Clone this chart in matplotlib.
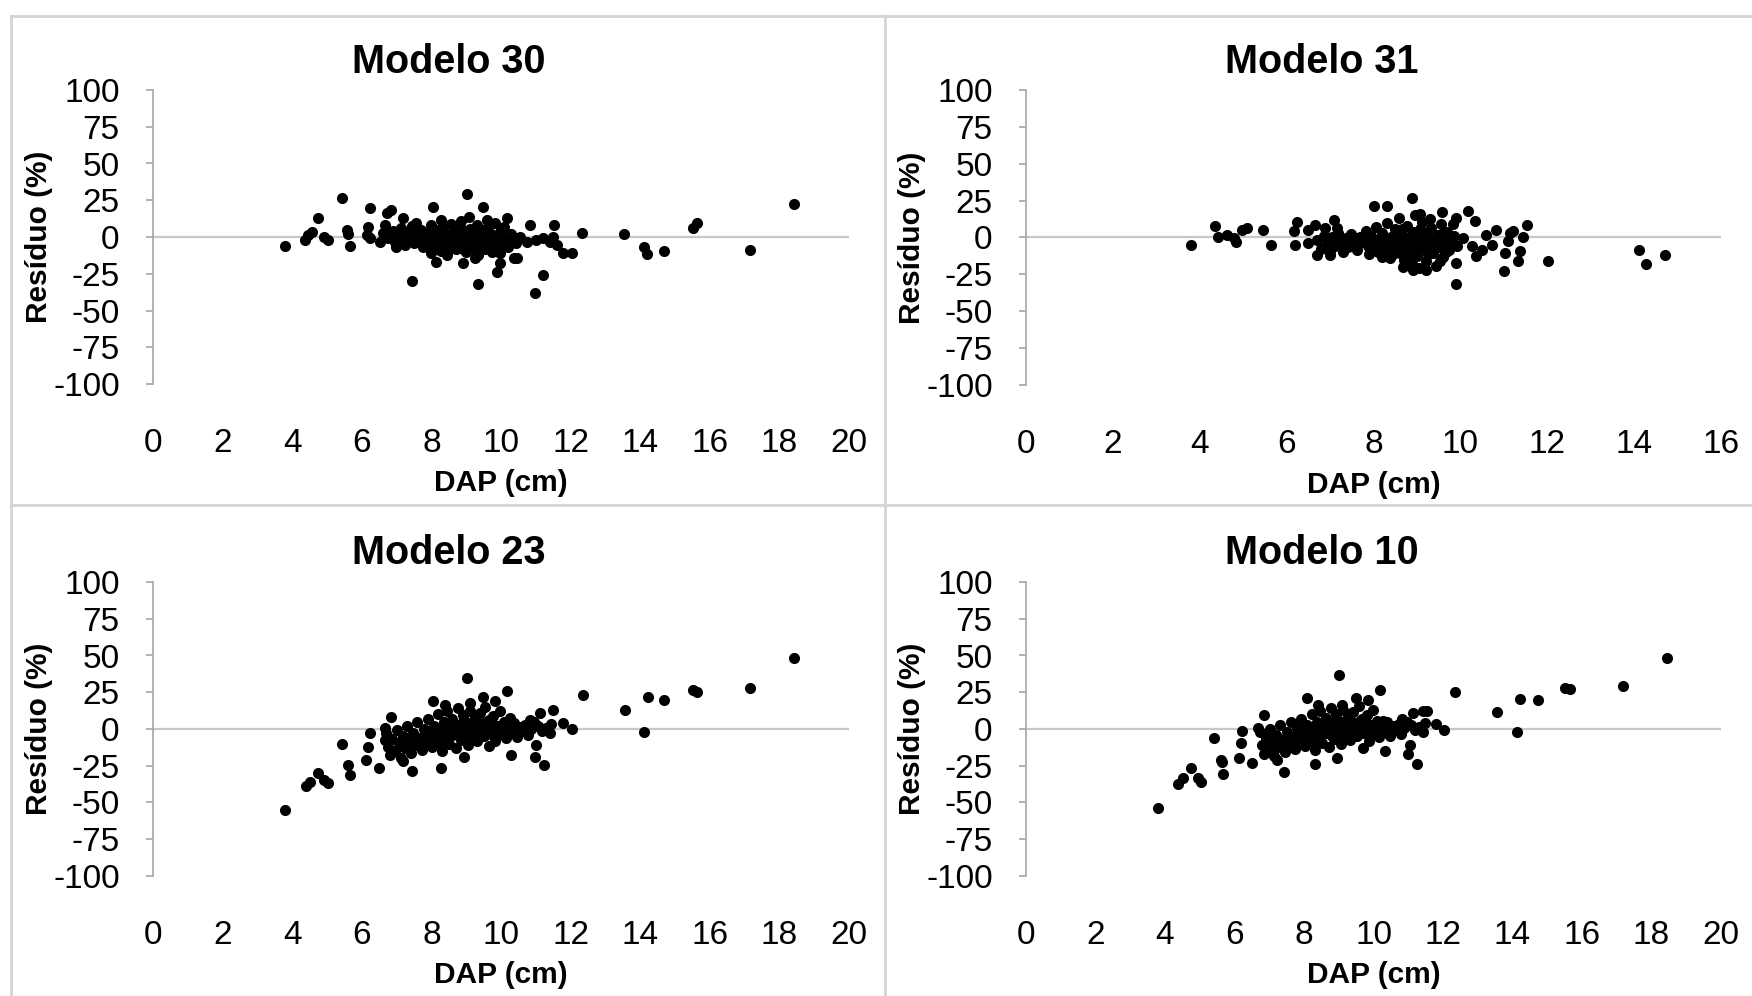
import matplotlib
matplotlib.use("Agg")
import matplotlib.pyplot as plt
from matplotlib.lines import Line2D

plt.rcParams['font.family'] = ['Liberation Sans', 'DejaVu Sans']
plt.rcParams['axes.unicode_minus'] = False

# residual points (DAP cm, residuo %)
pts_m30 = [
    (3.79, -5.9), (4.37, -2.0), (4.46, 1.4), (4.56, 3.6), (4.75, 13.1), (4.90, 0.0), (5.04, -2.0),
    (5.42, 26.8), (5.57, 4.8), (5.61, 1.8), (5.66, -5.9), (6.14, 1.4), (6.19, 6.9), (6.24, 19.9),
    (6.24, -0.9), (6.52, -3.2), (6.66, 8.2), (6.71, 16.0), (6.85, 18.4), (6.98, -6.6), (7.19, 12.7),
    (7.43, -29.9), (8.05, 20.6), (8.12, -17.2), (8.29, 11.7), (8.92, -17.9), (9.01, 29.0), (9.09, 13.9),
    (9.35, -32.2), (9.49, 20.6), (9.88, -23.6), (9.97, -17.9), (9.97, -11.1), (10.16, 13.1), (10.26, -2.0),
    (10.36, -14.5), (10.45, -14.5), (10.74, -3.2), (10.83, 8.2), (10.98, -38.3), (11.22, -25.8),
    (11.02, -2.0), (11.22, -0.9), (11.41, -3.2), (11.51, 8.2), (11.60, -5.5), (11.50, 0.0),
    (11.79, -11.1), (12.03, -11.1), (12.34, 2.9), (13.53, 2.3), (14.11, -6.6), (14.19, -11.8),
    (14.68, -9.5), (15.51, 5.9), (15.64, 9.3), (17.16, -8.8), (18.43, 22.2),
    (6.62, 2.5), (6.75, -1.0), (6.90, 4.0), (6.95, -3.5), (7.05, 1.0), (7.12, 6.0), (7.18, -2.0),
    (7.25, -5.5), (7.30, 3.5), (7.38, 0.0), (7.45, 7.5), (7.50, -4.0), (7.58, 2.0), (7.63, -1.5),
    (7.70, 5.0), (7.75, -6.5), (7.82, 0.5), (7.88, 3.0), (7.92, -3.0), (7.98, 8.0), (8.02, -8.0),
    (8.08, 1.5), (8.12, -5.0), (8.18, 4.5), (8.22, -1.0), (8.28, -9.5), (8.32, 6.5), (8.38, -3.5),
    (8.42, 2.0), (8.48, -6.5), (8.52, 0.0), (8.56, 9.0), (8.60, -2.5), (8.65, 4.0), (8.70, -8.0),
    (8.74, -4.5), (8.78, 1.5), (8.82, 7.0), (8.86, -1.0), (8.90, -6.0), (8.94, 3.5), (8.98, -10.5),
    (9.02, 0.5), (9.06, -3.5), (9.10, 5.5), (9.14, -7.5), (9.18, -1.5), (9.22, 2.5), (9.27, -5.0),
    (9.31, 8.5), (9.35, -12.0), (9.40, 0.0), (9.44, -3.0), (9.48, 4.5), (9.53, -8.5), (9.57, -1.0),
    (9.62, 6.5), (9.66, -5.5), (9.70, 2.0), (9.75, -10.0), (9.80, -2.5), (9.84, 9.5), (9.88, 0.5),
    (9.93, -6.5), (9.98, 3.5), (10.03, -3.5), (10.08, 7.0), (10.12, -1.0), (10.20, -7.0),
    (10.30, 2.0), (10.42, -4.0), (10.55, 0.0), (8.45, -12.5), (8.85, 11.0), (9.25, -14.0),
    (8.00, -11.0), (7.55, 9.5), (9.60, 11.5),
    (7.85, -1.5), (7.95, 4.0), (8.05, -4.0), (8.15, 1.0), (8.25, -6.5), (8.35, 3.0), (8.45, -2.0),
    (8.55, -7.5), (8.62, 1.0), (8.68, -4.0), (8.76, 4.5), (8.84, -2.5), (8.92, -8.0), (9.00, 2.0),
    (9.08, -5.5), (9.16, 1.0), (9.24, -9.0), (9.33, -2.0), (9.42, 3.0), (9.50, -4.5), (9.58, 1.5),
    (9.68, -8.0), (9.76, -0.5), (9.86, -4.0), (9.95, 0.5), (7.35, -3.0), (7.15, 2.5), (7.65, 1.0),
    (10.15, -4.5), (10.35, -1.0),
]

pts_m31 = [
    (3.79, -5.2), (4.35, 7.7), (4.41, 0.2), (4.62, 2.0), (4.79, -0.2), (4.83, -3.2), (4.97, 5.4),
    (5.08, 6.6), (5.46, 5.4), (5.65, -5.2), (6.17, 4.3), (6.19, -5.2), (6.25, 10.4), (6.49, 5.4),
    (6.50, -3.9), (6.65, 8.2), (6.69, -11.6), (6.88, 6.2), (7.08, 12.2), (7.15, 6.2), (7.00, -11.6),
    (8.01, 21.1), (8.30, 21.1), (8.88, 26.5), (9.07, 16.2), (8.92, -21.8), (9.22, -21.8), (8.37, -13.8),
    (9.57, 17.5), (10.18, 17.9), (9.91, 13.4), (9.84, 8.9), (10.34, 11.1), (9.91, -17.2), (9.91, -31.5),
    (10.07, -0.2), (10.26, -5.9), (10.37, -12.7), (10.49, -8.8), (10.60, 2.0), (10.72, -5.2),
    (10.83, 5.4), (11.00, -22.9), (11.03, -10.5), (11.14, 3.2), (11.22, 4.3), (11.10, -2.5),
    (11.33, -16.1), (11.37, -9.3), (11.45, 0.0), (11.54, 8.8), (12.02, -15.6), (14.12, -8.2),
    (14.27, -17.9), (14.71, -11.6),
    (6.70, -2.0), (6.78, -7.5), (6.85, 1.0), (6.92, -4.5), (7.00, -9.0), (7.05, 0.5), (7.12, -6.0),
    (7.18, 3.0), (7.24, -3.0), (7.30, -10.0), (7.36, -0.5), (7.42, -6.5), (7.48, 2.5), (7.55, -4.0),
    (7.62, -8.5), (7.68, 0.0), (7.75, -2.5), (7.82, 4.5), (7.88, -6.0), (7.94, 1.0), (8.00, -3.5),
    (8.05, 7.0), (8.10, -9.5), (8.15, -1.0), (8.20, 3.0), (8.25, -6.0), (8.30, 10.0), (8.35, -3.0),
    (8.40, 0.5), (8.45, -11.0), (8.50, 5.5), (8.55, -7.0), (8.60, -1.5), (8.65, 2.5), (8.70, -15.5),
    (8.72, -4.5), (8.76, 8.0), (8.80, -9.0), (8.84, 0.0), (8.88, -18.0), (8.92, 4.0), (8.96, -5.5),
    (9.00, -12.5), (9.04, 1.5), (9.08, -2.5), (9.12, 10.5), (9.16, -8.0), (9.20, -16.0), (9.24, 3.0),
    (9.28, -4.0), (9.32, 6.5), (9.36, -10.5), (9.40, -1.0), (9.44, -19.0), (9.48, 1.5), (9.52, -6.5),
    (9.56, 9.0), (9.60, -13.5), (9.64, -2.0), (9.70, 4.0), (9.74, -8.5), (9.80, -3.5), (9.86, 1.0),
    (9.92, -6.0), (8.58, 13.5), (8.95, 15.0), (9.30, 12.5), (9.05, -20.5), (8.68, -20.0),
    (8.20, -13.0), (7.90, -11.0),
    (8.05, -6.0), (8.12, -2.0), (8.22, 0.0), (8.32, -8.5), (8.42, -4.5), (8.52, -1.0), (8.62, -10.5),
    (8.66, 5.5), (8.74, -1.5), (8.82, -6.5), (8.86, -12.0), (8.94, -2.5), (9.02, -8.5), (9.06, 6.0),
    (9.14, -4.5), (9.18, 0.5), (9.26, -11.5), (9.34, -1.5), (9.38, -7.0), (9.46, -3.0), (9.54, -16.0),
    (9.58, 2.5), (9.66, -9.5), (9.72, -0.5), (7.65, -4.5), (7.45, -1.0), (7.85, -1.0),
]

pts_m23 = [
    (3.79, -54.8), (4.40, -39.0), (4.51, -36.0), (4.75, -29.9), (4.90, -34.5), (5.04, -36.7),
    (5.42, -10.2), (5.61, -24.2), (5.66, -31.0), (6.12, -20.8), (6.19, -12.4), (6.24, -2.6),
    (6.48, -26.5), (6.66, 0.8), (6.66, -7.2), (6.85, 8.0), (7.19, -22.0), (7.43, -28.8), (8.05, 19.3),
    (8.29, -26.5), (8.95, -19.3), (9.01, 34.7), (9.49, 21.8), (10.16, 26.1), (9.84, 18.8), (9.11, 17.7),
    (8.39, 16.0), (9.66, -11.8), (10.30, -17.4), (10.98, -19.3), (11.24, -24.2), (11.02, -10.6),
    (10.26, 7.5), (10.83, 6.3), (11.12, 10.8), (11.50, 13.2), (11.79, 4.1), (12.03, 0.2), (12.35, 23.4),
    (13.55, 13.2), (14.11, -2.0), (14.21, 21.6), (14.69, 19.5), (15.51, 26.8), (15.64, 25.2),
    (17.16, 27.9), (18.42, 48.3),
    (6.70, -3.0), (6.75, -12.0), (6.82, -18.0), (6.88, -6.5), (6.95, -15.0), (7.00, -1.0), (7.06, -9.5),
    (7.12, -19.5), (7.18, -4.5), (7.24, -13.0), (7.30, 2.0), (7.36, -8.0), (7.42, -16.5), (7.48, -2.5),
    (7.54, -11.0), (7.60, 4.5), (7.66, -6.0), (7.72, -14.0), (7.78, 0.0), (7.84, -9.0), (7.90, 6.5),
    (7.96, -3.5), (8.02, -12.0), (8.08, 2.0), (8.14, -7.0), (8.20, 10.0), (8.25, -1.5), (8.30, -15.0),
    (8.35, 4.5), (8.40, -5.0), (8.45, 12.0), (8.50, -10.0), (8.55, 0.5), (8.60, 7.0), (8.65, -3.0),
    (8.70, -13.0), (8.75, 14.0), (8.80, 2.5), (8.85, -7.5), (8.90, 9.5), (8.95, -1.0), (9.00, 5.0),
    (9.05, -11.0), (9.10, 12.5), (9.15, -4.0), (9.20, 1.5), (9.25, 7.5), (9.30, -8.0), (9.35, -1.5),
    (9.40, 11.0), (9.45, 3.5), (9.50, -5.0), (9.55, 15.0), (9.60, 0.0), (9.66, 6.0), (9.72, -3.5),
    (9.78, 9.0), (9.84, -8.5), (9.90, 2.0), (9.96, 12.5), (10.02, -2.0), (10.08, 5.0), (10.14, -6.0),
    (10.22, 1.0), (10.30, -2.5), (10.38, 4.0), (10.46, -5.5), (10.54, 1.5), (10.62, -1.0), (10.70, 3.0),
    (10.78, -4.0), (10.86, 0.0), (10.94, 4.5), (11.06, 2.0), (11.18, -1.5), (11.30, 1.0), (11.40, -2.5),
    (11.45, 3.5),
    (7.70, -9.5), (7.88, -5.0), (8.00, -8.0), (8.12, -2.5), (8.22, -10.0), (8.32, 1.0), (8.42, -6.0),
    (8.52, 3.5), (8.58, -4.0), (8.68, -0.5), (8.78, -5.0), (8.88, 4.0), (8.98, -3.5), (9.08, 1.0),
    (9.18, -6.5), (9.28, 3.5), (9.38, -4.0), (9.48, 0.5), (9.58, 5.0), (9.68, -1.5), (9.80, 3.0),
    (9.95, -3.5), (10.10, 1.0), (7.45, -6.5), (7.30, -11.5), (10.45, 0.5),
]

pts_m10 = [
    (3.81, -53.5), (4.38, -37.7), (4.53, -33.6), (4.75, -26.8), (4.96, -33.1), (5.05, -36.3),
    (5.42, -5.9), (5.61, -21.1), (5.63, -22.7), (5.68, -30.9), (6.13, -19.5), (6.20, -9.8),
    (6.23, -1.4), (6.49, -23.2), (6.85, 9.5), (6.68, 0.5), (7.21, -21.1), (7.43, -29.1), (8.08, 21.3),
    (8.32, -24.0), (8.94, -19.5), (9.02, 36.7), (9.50, 20.9), (9.85, 19.9), (10.19, 26.5), (8.41, 16.3),
    (9.08, 16.3), (9.71, -13.1), (10.33, -14.9), (10.99, -17.2), (11.24, -24.0), (11.05, -10.9),
    (10.28, 5.4), (10.81, 6.8), (11.14, 10.7), (11.43, 12.3), (11.53, 12.4), (11.79, 3.2), (12.04, -0.9),
    (12.35, 25.2), (13.55, 11.3), (14.13, -1.8), (14.22, 20.4), (14.72, 19.9), (15.50, 28.1),
    (15.65, 27.0), (17.19, 29.2), (18.44, 48.5),
    (6.72, -2.0), (6.78, -11.0), (6.84, -17.0), (6.90, -6.0), (6.96, -14.0), (7.02, 0.0), (7.08, -9.0),
    (7.14, -18.5), (7.20, -4.0), (7.26, -12.5), (7.32, 3.0), (7.38, -7.5), (7.44, -15.5), (7.50, -2.0),
    (7.56, -10.5), (7.62, 5.0), (7.68, -5.5), (7.74, -13.5), (7.80, 0.5), (7.86, -8.5), (7.92, 7.0),
    (7.98, -3.0), (8.04, -11.5), (8.10, 2.5), (8.16, -6.5), (8.22, 10.5), (8.27, -1.0), (8.32, -14.5),
    (8.37, 5.0), (8.42, -4.5), (8.47, 12.5), (8.52, -9.5), (8.57, 1.0), (8.62, 7.5), (8.67, -2.5),
    (8.72, -12.5), (8.77, 14.5), (8.82, 3.0), (8.87, -7.0), (8.92, 10.0), (8.97, -0.5), (9.02, 5.5),
    (9.07, -10.5), (9.12, 13.0), (9.17, -3.5), (9.22, 2.0), (9.27, 8.0), (9.32, -7.5), (9.37, -1.0),
    (9.42, 11.5), (9.47, 4.0), (9.52, -4.5), (9.57, 15.5), (9.62, 0.5), (9.68, 6.5), (9.74, -3.0),
    (9.80, 9.5), (9.86, -8.0), (9.92, 2.5), (9.98, 13.0), (10.04, -1.5), (10.10, 5.5), (10.16, -5.5),
    (10.24, 1.5), (10.32, -2.0), (10.40, 4.5), (10.48, -5.0), (10.56, 2.0), (10.64, -0.5), (10.72, 3.5),
    (10.80, -3.5), (10.88, 0.5), (10.96, 5.0), (11.08, 2.5), (11.20, -1.0), (11.32, 1.5), (11.42, -2.0),
    (11.47, 4.0),
    (7.72, -8.5), (7.90, -4.0), (8.02, -7.0), (8.14, -1.5), (8.24, -9.0), (8.34, 1.5), (8.44, -5.0),
    (8.54, 4.0), (8.60, -3.0), (8.70, 0.0), (8.80, -4.5), (8.90, 4.5), (9.00, -3.0), (9.10, 1.5),
    (9.20, -6.0), (9.30, 4.0), (9.40, -3.5), (9.50, 1.0), (9.60, 5.5), (9.70, -1.0), (9.82, 3.5),
    (9.96, -3.0), (10.12, 1.5), (7.47, -6.0), (7.32, -11.0), (10.47, 1.0),
]

titles = ["Modelo 30", "Modelo 31", "Modelo 23", "Modelo 10"]
yticks = [100, 75, 50, 25, 0, -25, -50, -75, -100]
xticks_20 = [0, 2, 4, 6, 8, 10, 12, 14, 16, 18, 20]
xticks_16 = [0, 2, 4, 6, 8, 10, 12, 14, 16]

W, H = 1752, 996
fig = plt.figure(figsize=(W / 100, H / 100), dpi=100)

def fx(px):
    return px / W

def fy(py):
    return 1 - py / H

# pixel boxes: axes (left, top, right, bottom), title centre
layout = [
    (pts_m30, xticks_20, (153, 90, 849, 384), (449, 62)),
    (pts_m31, xticks_16, (1026, 90, 1721, 385), (1322, 62)),
    (pts_m23, xticks_20, (153, 582, 849, 876), (449, 553)),
    (pts_m10, xticks_20, (1026, 582, 1721, 876), (1322, 553)),
]

grey = '#a6a6a6'
for title, (pts, xt, box, tpos) in zip(titles, layout):
    l, t, r, b = box
    ax = fig.add_axes([fx(l), fy(b), (r - l) / W, (b - t) / H])
    dap = [p[0] for p in pts]
    res = [p[1] for p in pts]
    ax.axhline(0, color='#c8c8c8', lw=1.6, zorder=0)
    ax.plot(dap, res, 'o', color='black', ms=8, mew=0, clip_on=False)
    ax.set_xlim(xt[0], xt[-1])
    ax.set_ylim(-100, 100)
    ax.set_xticks(xt)
    ax.set_yticks(yticks)
    ax.tick_params(axis='x', length=0, pad=32, labelsize=24)
    ax.tick_params(axis='y', length=5, width=1.2, color=grey, pad=19, labelsize=24, direction='out')
    for s in ['top', 'right', 'bottom']:
        ax.spines[s].set_visible(False)
    ax.spines['left'].set_color(grey)
    ax.spines['left'].set_linewidth(1.2)
    ax.set_xlabel('DAP (cm)', fontsize=21.5, fontweight='bold')
    ax.xaxis.set_label_coords(0.5, -0.338)
    ax.xaxis.label.set_va('center')
    ax.set_ylabel('Resíduo (%)', fontsize=21.5, fontweight='bold')
    ax.yaxis.set_label_coords(-0.164, 0.5)
    ax.yaxis.label.set_va('center')
    fig.text(fx(tpos[0]), fy(tpos[1]), title, ha='center', va='center',
             fontsize=28.5, fontweight='bold')

# panel borders
border = '#d4d4d4'
for x0, y0, x1, y1 in [(11, 16, 1752, 16), (11, 16, 11, 996), (885, 16, 885, 996), (11, 505, 1752, 505)]:
    fig.add_artist(Line2D([fx(x0), fx(x1)], [fy(y0), fy(y1)], color=border, lw=2))

fig.savefig('out.png', dpi=100, facecolor='white')
